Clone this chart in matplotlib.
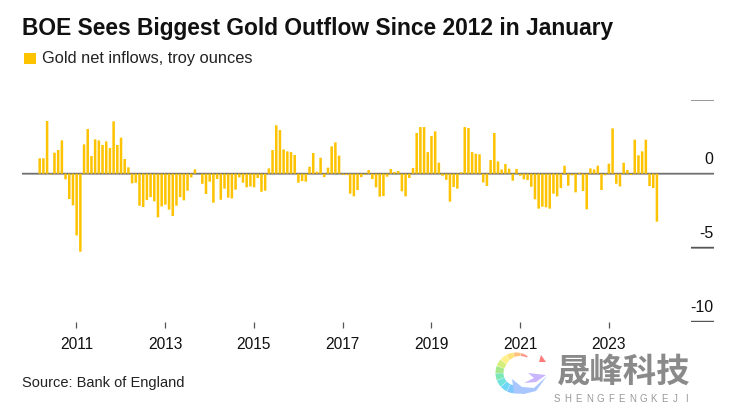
import numpy as np
import matplotlib
matplotlib.use("Agg")
import matplotlib.pyplot as plt
from matplotlib.patches import Rectangle, Wedge, Circle, Polygon

title = "BOE Sees Biggest Gold Outflow Since 2012 in January"
legend_label = "Gold net inflows, troy ounces"
source = "Source: Bank of England"
year_labels = ["2011", "2013", "2015", "2017", "2019", "2021", "2023"]
y_ticks = [5, 0, -5, -10]
y_labels = ["", "0", "-5", "-10"]

values_2010_2014 = [1.04, 1.04, 3.56, -0.05, 1.42, 1.6, 2.25, -0.38, -1.71, -2.14, -4.17, -5.27,
    1.98, 3.02, 1.19, 2.32, 2.25, 1.94, 2.18, 1.73, 3.54, 1.94, 2.43, 0.99, 0.43, -0.65, -0.61,
    -2.16, -2.25, -1.78, -1.58, -1.87, -2.95, -2.21, -2.09, -2.43, -2.86, -2.16, -1.58, -1.8,
    -1.15, -0.25, 0.29, 0, -0.68, -1.37, -0.54, -1.96, -0.36, -1.76, -1.01, -1.62, -1.67, -1.08,
    -0.25, -0.61, -0.92, -0.86, -0.92, -0.29]
values_2015_2019 = [-1.22, -1.15, 0.36, 1.6, 3.27, 2.95, 1.64, 1.51, 1.46, 1.26, -0.61, -0.5,
    -0.54, 0.47, 1.4, 0.14, 1.08, -0.23, 0.41, 1.85, 2.12, 1.22, -0.07, -0.09, -1.35, -1.53, -1.1,
    -0.23, -0.07, 0.25, -0.36, -0.92, -1.55, -1.51, -0.2, 0.32, 0.11, 0.18, -1.19, -1.53, -0.29,
    0.38, 2.75, 3.15, 3.15, 1.46, 2.55, 2.86, 0.74, -0.14, -0.41, -1.89, -0.9, -1.01, 0.09, 3.15,
    3.09, 1.46, 1.35, 1.31, -0.59, -0.83]
values_2020_2024 = [0.92, 2.75, 0.83, 0.29, 0.65, 0.34, -0.47, 0.32, -0.14, -0.38, -0.43, -0.88,
    -1.73, -2.36, -2.23, -2.27, -2.36, -1.35, -1.53, -0.97, 0.54, -0.81, -0.11, -1.26, 0.07, -1.17,
    -2.41, 0.36, 0.29, 0.54, -1.1, -0.11, 0.68, 3.06, -0.68, -0.86, 0.74, 0.25, -0.09, 2.3, 1.24,
    1.51, 2.3, -0.83, -0.97, -3.24]
values = np.array(values_2010_2014 + values_2015_2019 + values_2020_2024)

W, H = 745, 403
plt.rcParams["font.family"] = ["Liberation Sans", "DejaVu Sans"]
fig = plt.figure(figsize=(W / 100, H / 100), dpi=100, facecolor="white")

ax_left, ax_right, ax_top, ax_bottom = 22, 714, 99.7, 321.7
ax = fig.add_axes([ax_left / W, 1 - ax_bottom / H, (ax_right - ax_left) / W, (ax_bottom - ax_top) / H])
ax.set_ylim(-10, 5)
ppm = 3.696
x0 = (ax_left - 39.7) / ppm
ax.set_xlim(x0, x0 + (ax_right - ax_left) / ppm)
for s in ax.spines.values():
    s.set_visible(False)
ax.patch.set_alpha(0)

idx = np.arange(len(values))
ax.axhline(0, color="#6f6f6f", lw=1.3, zorder=1, snap=False)
for t in [5, -5, -10]:
    ax.hlines(t, x0 + (691 - ax_left) / ppm, x0 + (ax_right - ax_left) / ppm, color="#555555", lw=1.3,
              zorder=1, snap=False)
for b in ax.bar(idx, values, width=0.68, color="#fdc300", linewidth=0, zorder=2):
    b.set_snap(False)

tick_pos = 9.95 + 24 * np.arange(len(year_labels))
ax.set_xticks(tick_pos, year_labels)
ax.tick_params(axis="x", length=4.3, width=0.9, color="#555555", pad=6.5, labelsize=11.2, labelcolor="#111111")
ax.set_yticks([])
for t, lab in zip(y_ticks, y_labels):
    if lab:
        ax.annotate(lab, (1, t), xycoords=("axes fraction", "data"), xytext=(-0.5, 4.6),
                    textcoords="offset points", ha="right", va="bottom", fontsize=11.5, color="#111111")

px = lambda x, y: (x / W, 1 - y / H)
fig.text(*px(22, 28.5), title, fontsize=16.35, fontweight="bold", color="#111111", va="center", ha="left")
fig.add_artist(Rectangle(px(24, 64), 12 / W, 11 / H, transform=fig.transFigure, color="#fdc300", lw=0))
fig.text(*px(42, 58), legend_label, fontsize=11.8, color="#222222", va="center", ha="left")
fig.text(*px(22, 383.5), source, fontsize=10.5, color="#222222", va="center", ha="left")

# watermark
fig.text(*px(557, 372), "晟峰科技", family=["Noto Sans CJK SC", "DejaVu Sans"], fontweight="bold",
         fontsize=24, color="#8a8a8a", va="center", ha="left")
for i, ch in enumerate("SHENGFENGKEJI"):
    fig.text(*px(557 + i * 10.75, 398.5), ch, fontsize=7, color="#999999", va="center", ha="center")

logo = fig.add_axes([490 / W, 0, 60 / W, 60 / H])
logo.set_xlim(490, 550)
logo.set_ylim(0, 60)
logo.axis("off")
arc_cols = ["#ff9a8a", "#ffc27a", "#ffe27a", "#fff08a", "#d6ee7a", "#a5e88a", "#7be8b5", "#6fe3dc",
            "#6fd6f5", "#7cc8ff", "#9cc4ff"]
start = 55
step = 21
for i, c in enumerate(arc_cols):
    logo.add_patch(Wedge((516, 30), 20.5, start + i * step, start + (i + 1) * step - 1.2,
                         width=8, facecolor=c, lw=0))
logo.add_patch(Circle((520, 32), 15, facecolor="white", lw=0))
logo.add_patch(Polygon([(541, 48), (546, 41), (539, 41)], facecolor="#ff7b7b", lw=0))
logo.add_patch(Polygon([(528, 30), (546, 28), (536, 21), (524, 20), (534, 25)], facecolor="#c9b6ff", lw=0))
logo.add_patch(Polygon([(512, 24), (522, 16), (534, 15), (546, 26), (547, 27), (536, 12), (524, 9), (514, 10)],
                       facecolor="#a9c6ff", lw=0))
plt.savefig("out.png", dpi=100)
